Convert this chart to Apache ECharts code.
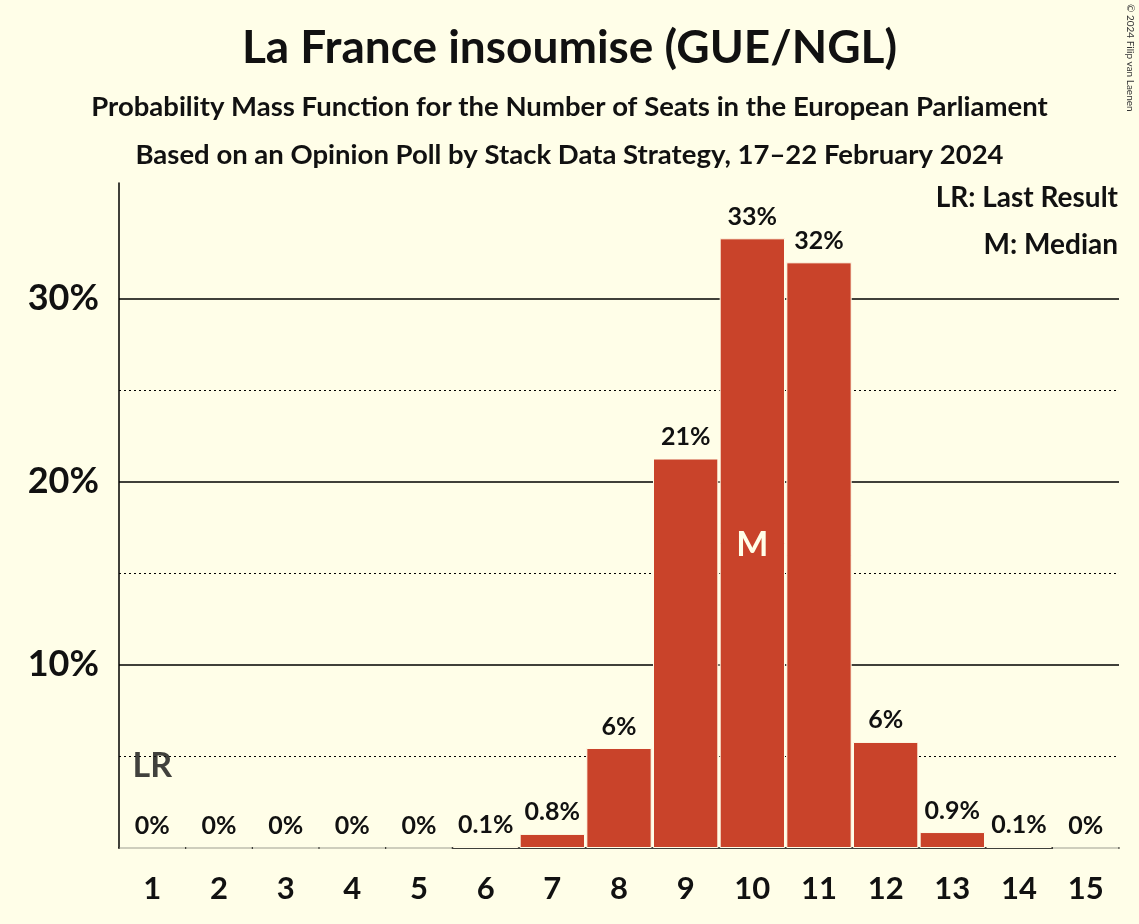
<!DOCTYPE html><html><head><meta charset="utf-8">
<script src="https://cdn.jsdelivr.net/npm/echarts@6/dist/echarts.min.js"></script>
<style>html,body{margin:0;background:#FFFEE8}#c{width:1139px;height:924px}</style></head><body><div id="c"></div>
<script>
const seats=['1','2','3','4','5','6','7','8','9','10','11','12','13','14','15'];
const probs=[0,0,0,0,0,0.1,0.77,5.46,21.26,33.28,31.97,5.79,0.87,0.1,0];
const valueLabels=['0%','0%','0%','0%','0%','0.1%','0.8%','6%','21%','33%','32%','6%','0.9%','0.1%','0%'];
const yTicks=[10,20,30];
const minorTicks=[5,15,25];
const F='Lato';
const ch=echarts.init(document.getElementById('c'));
const lines=[...yTicks.map(v=>({yAxis:v,lineStyle:{type:'solid',width:1.5,color:'#000'}})),...minorTicks.map(v=>({yAxis:v,lineStyle:{type:[2,3],width:1,color:'#000'}}))];
ch.setOption({
backgroundColor:'#FFFEE8',
textStyle:{fontFamily:F},
title:[{text:'La France insoumise (GUE/NGL)',left:'center',top:20,textStyle:{fontFamily:F,fontSize:46,fontWeight:'bold',color:'#111'}},
{text:'Probability Mass Function for the Number of Seats in the European Parliament',left:'center',top:88,textStyle:{fontFamily:F,fontSize:27.5,fontWeight:'bold',color:'#111'}},
{text:'Based on an Opinion Poll by Stack Data Strategy, 17–22 February 2024',left:'center',top:136,textStyle:{fontFamily:F,fontSize:27.5,fontWeight:'bold',color:'#111'}}],
graphic:[{type:'text',right:21,top:184,style:{text:'LR: Last Result',font:'bold 28px Lato',fill:'#111'}},
{type:'text',right:21,top:231,style:{text:'M: Median',font:'bold 28px Lato',fill:'#111'}},
{type:'text',right:4,top:4,rotation:-Math.PI/2,style:{text:'© 2024 Filip van Laenen',font:'10px Lato',fill:'#333'}}],
grid:{left:119,right:20,top:183,bottom:76},
xAxis:{type:'category',data:seats,axisTick:{show:false},axisLine:{lineStyle:{color:'#000',width:1.5}},axisLabel:{fontSize:31,fontWeight:'bold',color:'#111',margin:25,fontFamily:F}},
yAxis:{type:'value',min:0,max:36.3,interval:10,splitLine:{show:false},axisLine:{show:true,lineStyle:{color:'#000',width:1.5}},axisTick:{show:false},
axisLabel:{fontSize:36,fontWeight:'bold',color:'#111',fontFamily:F,margin:20,formatter:v=>yTicks.includes(v)?v+'%':''}},
series:[{type:'bar',data:probs,barCategoryGap:'2%',z:3,itemStyle:{color:'#C9432A',borderColor:'#FFFEE8',borderWidth:1},
label:{show:true,position:'top',distance:9,fontSize:25,fontWeight:'bold',color:'#111',fontFamily:F,backgroundColor:'#FFFEE8',formatter:p=>valueLabels[p.dataIndex]},
markLine:{silent:true,symbol:'none',label:{show:false},z:1,data:lines}},
{type:'bar',data:probs.map((v,i)=>i===9?v:null),barGap:'-100%',barCategoryGap:'2%',z:4,itemStyle:{color:'rgba(0,0,0,0)'},
label:{show:true,position:'inside',fontSize:34,fontWeight:'bold',color:'#FFFEE8',fontFamily:F,formatter:'M',offset:[0,2]}},
{type:'scatter',data:[[0,4.5]],symbolSize:0,z:5,label:{show:true,formatter:'LR',fontSize:34,fontWeight:'bold',color:'#111',fontFamily:F,position:'inside'}}]
});
</script></body></html>
